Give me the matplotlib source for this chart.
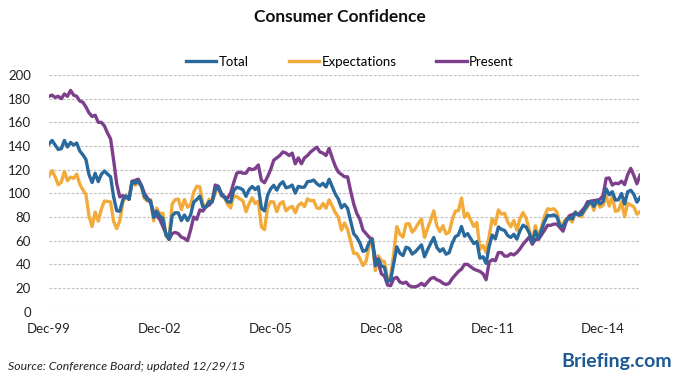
import numpy as np
import matplotlib
matplotlib.use("Agg")
import matplotlib.pyplot as plt

# monthly readings, Dec-99 .. Dec-15
total = [141.7,
         144.7, 140.8, 137.1, 137.7, 144.7, 139.2, 143.0, 140.8, 142.5, 135.8, 132.6, 128.6,
         115.7, 109.2, 116.9, 109.9, 116.1, 118.9, 116.3, 114.0, 97.0, 85.3, 84.9, 94.6,
         97.8, 95.0, 110.2, 108.5, 110.3, 106.3, 97.4, 94.5, 93.7, 79.6, 84.9, 80.7,
         78.8, 64.8, 61.4, 81.0, 83.6, 83.5, 77.0, 81.7, 77.0, 81.7, 92.5, 94.8,
         97.7, 88.5, 88.5, 93.0, 93.1, 102.8, 105.7, 98.7, 96.7, 92.9, 92.6, 102.3,
         105.1, 104.4, 103.0, 97.5, 103.1, 105.8, 103.2, 105.6, 87.5, 85.2, 98.3, 103.8,
         106.8, 102.7, 107.5, 109.8, 104.7, 105.4, 107.0, 100.2, 105.9, 105.1, 105.3, 110.0,
         110.2, 111.2, 108.2, 106.3, 108.5, 105.3, 111.9, 105.6, 99.5, 95.2, 87.8, 90.6,
         87.3, 76.4, 65.9, 62.8, 58.1, 51.0, 51.9, 58.5, 61.4, 38.8, 44.7, 38.6,
         37.4, 25.3, 26.9, 40.8, 54.8, 49.3, 47.4, 54.5, 53.4, 48.7, 50.6, 53.6,
         56.5, 46.4, 52.3, 57.7, 62.7, 54.3, 51.0, 53.2, 48.6, 49.9, 57.8, 63.4,
         64.8, 72.0, 63.8, 66.0, 61.7, 57.6, 59.2, 45.2, 46.4, 40.9, 55.2, 64.8,
         61.5, 71.6, 69.5, 68.7, 64.4, 62.7, 65.4, 61.3, 68.4, 73.1, 71.5, 66.7,
         58.4, 68.0, 61.9, 69.0, 76.2, 81.4, 81.0, 81.8, 80.2, 72.4, 72.0, 77.5,
         79.4, 78.3, 83.9, 81.7, 82.2, 86.4, 90.3, 93.4, 89.0, 94.1, 91.0, 93.1,
         103.8, 98.8, 101.4, 94.3, 94.6, 99.8, 91.0, 101.3, 102.6, 99.1, 92.6, 96.5]

expectations = [114.8,
                119.2, 114.0, 107.2, 109.5, 118.5, 110.7, 113.7, 112.7, 116.2, 107.7, 103.0, 99.0,
                80.8, 72.0, 84.2, 76.5, 86.8, 93.5, 93.2, 92.7, 76.3, 70.2, 76.8, 92.3,
                98.3, 95.0, 110.3, 106.8, 109.2, 105.8, 95.7, 93.5, 94.8, 76.7, 87.5, 82.5,
                83.3, 64.0, 61.7, 91.0, 94.7, 95.2, 86.3, 94.8, 88.3, 90.2, 100.8, 106.0,
                105.5, 90.8, 88.2, 95.0, 93.2, 100.0, 105.5, 97.8, 96.5, 90.8, 87.7, 97.8,
                97.2, 95.3, 93.7, 84.5, 91.2, 96.3, 91.3, 93.3, 71.8, 69.3, 87.8, 93.0,
                92.7, 84.5, 91.2, 93.0, 85.2, 87.7, 89.0, 83.7, 89.8, 91.8, 88.8, 95.3,
                93.7, 94.0, 87.7, 87.2, 91.5, 87.5, 94.5, 89.3, 83.8, 80.0, 69.0, 75.0,
                69.5, 59.3, 49.2, 49.3, 44.8, 39.0, 42.5, 55.5, 62.3, 34.7, 47.2, 43.0,
                42.3, 27.2, 30.2, 49.3, 72.0, 65.5, 63.0, 74.2, 74.3, 67.2, 70.3, 74.7,
                78.2, 62.7, 70.5, 77.5, 85.2, 72.5, 67.7, 72.7, 65.7, 67.2, 77.7, 85.0,
                85.3, 96.0, 79.7, 83.3, 77.5, 72.0, 75.3, 52.7, 56.0, 50.2, 64.0, 78.7,
                73.8, 86.0, 82.5, 83.2, 76.0, 71.8, 77.0, 68.8, 78.7, 83.8, 79.2, 69.2,
                59.3, 72.7, 62.5, 71.7, 81.0, 87.0, 86.3, 87.0, 84.3, 73.3, 74.7, 78.5,
                78.3, 75.8, 84.5, 81.5, 80.3, 85.3, 88.5, 93.7, 85.7, 94.2, 88.3, 89.8,
                97.7, 89.3, 97.6, 84.8, 85.6, 92.8, 80.3, 91.6, 90.0, 88.7, 82.4, 84.5]

present = [182,
           183, 181, 182, 180, 184, 182, 187, 183, 182, 178, 177, 173,
           168, 165, 166, 160, 160, 157, 151, 146, 128, 108, 97, 98,
           97, 95, 110, 111, 112, 107, 100, 96, 92, 84, 81, 78,
           72, 66, 61, 66, 67, 66, 63, 62, 60, 69, 80, 78,
           86, 85, 89, 90, 93, 107, 106, 100, 97, 96, 100, 109,
           117, 118, 117, 117, 121, 120, 121, 124, 111, 109, 114, 120,
           128, 130, 132, 135, 134, 132, 134, 125, 130, 125, 130, 132,
           135, 137, 139, 135, 134, 132, 138, 130, 123, 118, 116, 114,
           114, 102, 91, 83, 78, 69, 66, 63, 60, 45, 41, 32,
           30, 22.5, 22, 28, 29, 25, 24, 25, 22, 21, 21, 22,
           24, 22, 25, 28, 29, 27, 26, 24, 23, 24, 28, 31,
           34, 36, 40, 40, 38, 36, 35, 34, 32, 27, 42, 44,
           43, 50, 50, 47, 47, 49, 48, 50, 53, 57, 60, 63,
           57, 61, 61, 65, 69, 73, 73, 74, 74, 71, 68, 76,
           81, 82, 83, 82, 85, 88, 93, 93, 94, 94, 95, 98,
           112.6, 113.0, 107.0, 108.6, 108.1, 110.3, 107.4, 115.8, 121.1, 115.1, 108.1, 115.3]

x_labels = ['Dec-99', 'Dec-02', 'Dec-05', 'Dec-08', 'Dec-11', 'Dec-14']
y_ticks = list(range(0, 201, 20))

plt.rcParams['font.family'] = ['Lato', 'DejaVu Sans']

W, H = 680, 383
fig = plt.figure(figsize=(W / 100, H / 100), dpi=100)
left, right, top, bottom = 49, 640, 75, 311.7
ax = fig.add_axes([left / W, 1 - bottom / H, (right - left) / W, (bottom - top) / H])

x = np.arange(len(total))
ax.plot(x, total, color='#29699c', lw=2.4, label='Total', zorder=3)
ax.plot(x, expectations, color='#f2ab3a', lw=2.4, label='Expectations', zorder=2)
ax.plot(x, present, color='#7d3f8c', lw=2.4, label='Present', zorder=2.5)

ax.set_xlim(0, len(total) - 1)
ax.set_ylim(0, 200)
ax.set_yticks(y_ticks)
ax.set_yticklabels([str(v) for v in y_ticks], fontsize=9.5, color='#222222')
ax.set_xticks(np.arange(0, len(total), 36))
ax.set_xticklabels(x_labels, fontsize=9.5, color='#222222')
ax.tick_params(axis='both', length=0)
ax.tick_params(axis='y', pad=13)
ax.tick_params(axis='x', pad=8)

ax.grid(axis='y', color='#c0c0c0', linestyle=(0, (2.5, 1.5)), lw=0.8, zorder=0)
for s in ax.spines.values():
    s.set_visible(False)

fig.text(0.5, 1 - 17 / H, 'Consumer Confidence', ha='center', va='center',
         fontsize=12.5, fontweight='bold', color='#111111')

fig.legend(loc='center', bbox_to_anchor=(350 / W, 1 - 62 / H), ncol=3,
           frameon=False, fontsize=9.5, handlelength=2.3, handletextpad=0.2,
           columnspacing=3.0)

fig.text(8 / W, 1 - 366 / H, 'Source: Conference Board; updated 12/29/15',
         ha='left', va='center', fontsize=8.8, style='italic', color='#222222')
fig.text(672 / W, 1 - 362 / H, 'Briefing.com', ha='right', va='center',
         fontsize=14, fontweight='bold', color='#1d5a94')

fig.savefig('out.png', dpi=100)
